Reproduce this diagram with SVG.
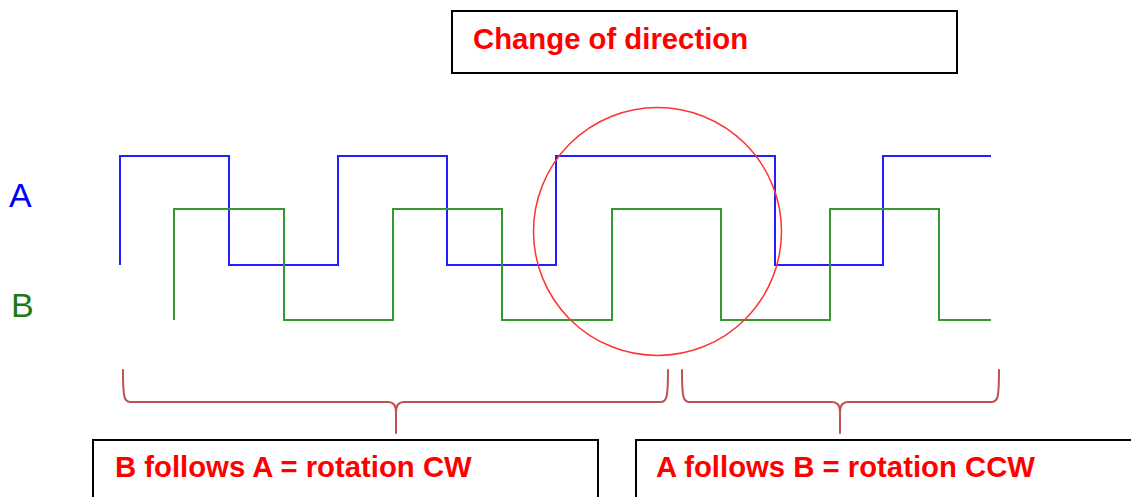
<svg xmlns="http://www.w3.org/2000/svg" width="1131" height="497" viewBox="0 0 1131 497">
  <style>
    .box { fill: #ffffff; stroke: #000000; stroke-width: 2; }
    .note { font-family: "Liberation Sans", Arial, sans-serif; font-weight: bold; font-size: 29.3px; fill: #ff0000; }
    .sig { font-family: "Liberation Sans", Arial, sans-serif; font-size: 34px; }
    .wave { fill: none; stroke-width: 2; stroke-linejoin: miter; }
    .brace { fill: none; stroke: #c0504d; stroke-width: 2; stroke-linecap: round; }
  </style>
  <rect width="1131" height="497" fill="#ffffff"/>

  <!-- Channel labels -->
  <g id="label-a"><text class="sig" x="9" y="207" fill="#0000ff">A</text></g>
  <g id="label-b"><text class="sig" x="11" y="317" fill="#1a7a1a">B</text></g>

  <!-- Quadrature waveforms -->
  <g id="wave-a">
    <polyline class="wave" stroke="#2020ff" points="120,265 120,156 229,156 229,265 338,265 338,156 447,156 447,265 556,265 556,156 775,156 775,265 883,265 883,156 991,156"/>
  </g>
  <g id="wave-b">
    <polyline class="wave" stroke="#339933" points="174,320 174,209 284,209 284,320 393,320 393,209 502,209 502,320 612,320 612,209 721,209 721,320 830,320 830,209 939,209 939,320 991,320"/>
  </g>

  <!-- Highlight around the reversal -->
  <g id="reversal-circle">
    <circle cx="657.5" cy="231.5" r="124" fill="none" stroke="#ff3333" stroke-width="1.5"/>
  </g>

  <!-- Title box -->
  <g id="title">
    <rect class="box" x="452" y="11" width="505" height="62"/>
    <text class="note" x="473" y="49">Change of direction</text>
  </g>

  <!-- Braces -->
  <g id="connectors">
    <path class="brace" d="M123,370 C123,396 124,402 130,402 L388,402 C393,402 396,405 396,412 L396,433 M396,412 C396,405 399,402 404,402 L661,402 C667,402 668,396 668,370"/>
    <path class="brace" d="M682,370 C682,396 683,402 689,402 L832,402 C837,402 840,405 840,412 L840,433 M840,412 C840,405 843,402 848,402 L992,402 C998,402 999,396 999,370"/>
  </g>

  <!-- Result boxes -->
  <g id="cw-box">
    <rect class="box" x="93" y="440" width="505" height="70"/>
    <text class="note" x="115" y="477">B follows A = rotation CW</text>
  </g>
  <g id="ccw-box">
    <rect class="box" x="636" y="440" width="520" height="70"/>
    <text class="note" x="656" y="477">A follows B = rotation CCW</text>
  </g>
</svg>
